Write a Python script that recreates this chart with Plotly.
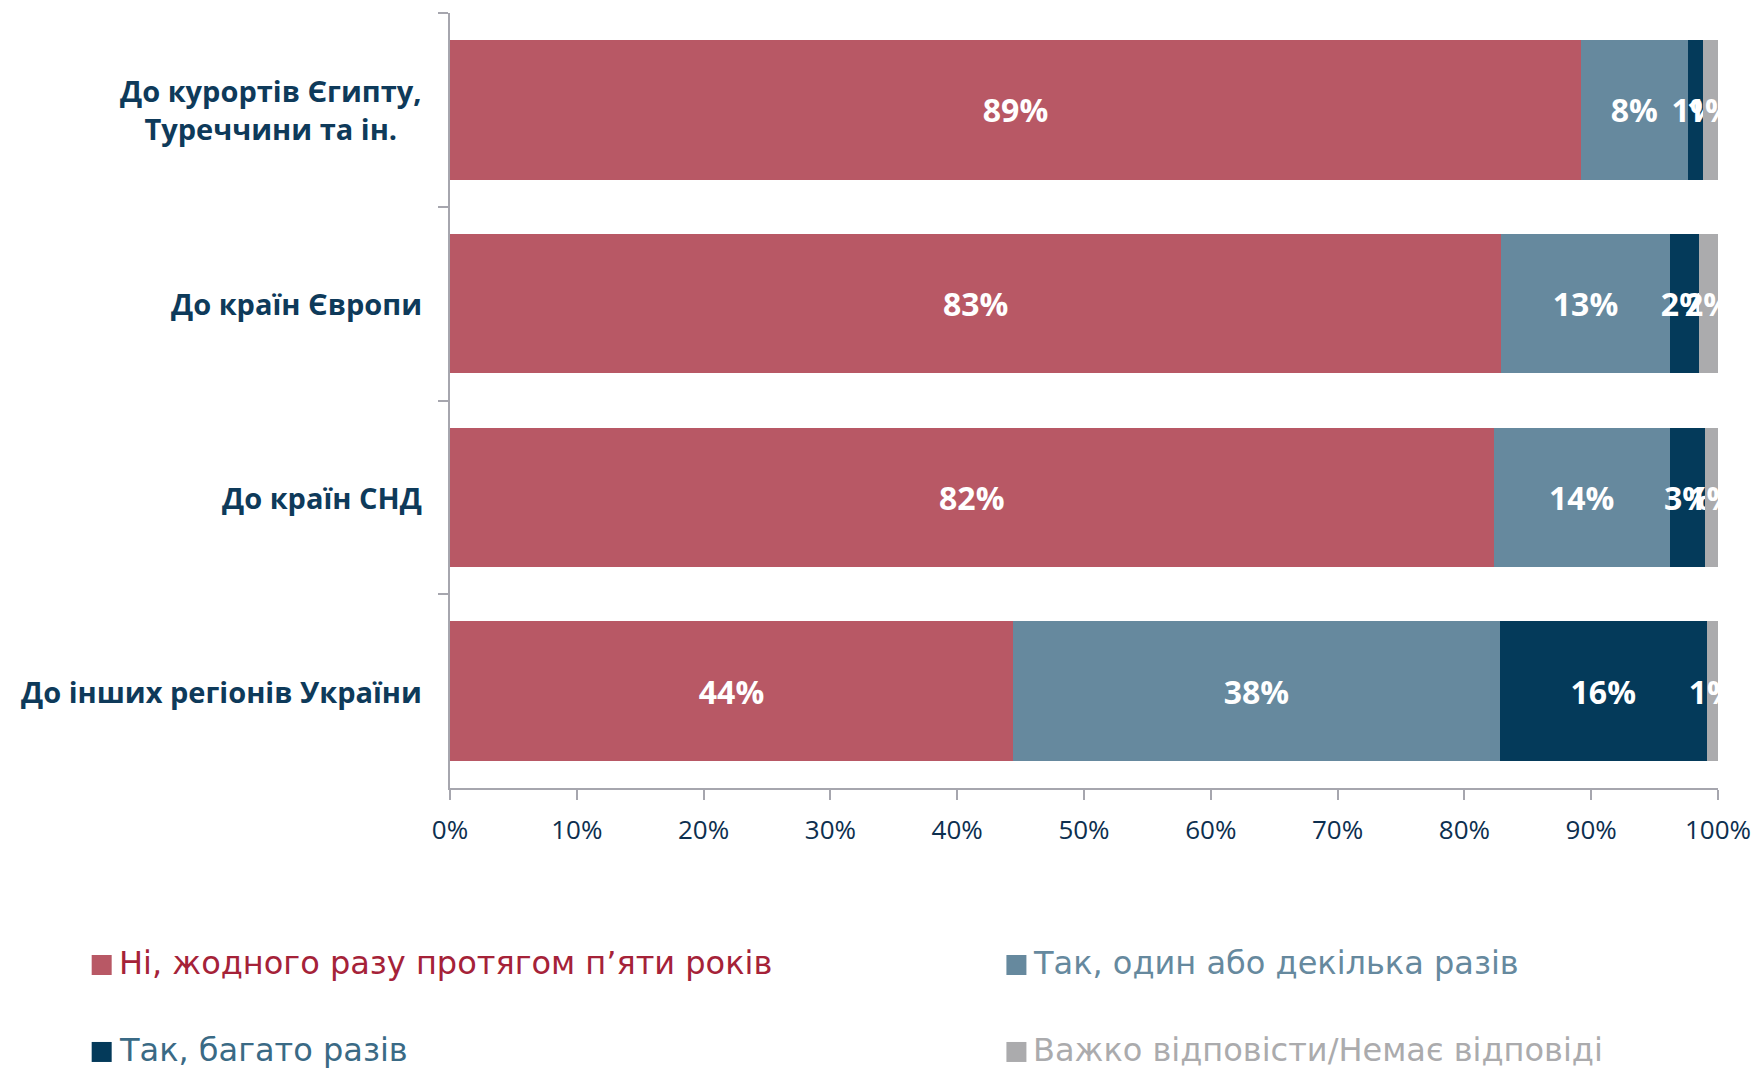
import plotly.graph_objects as go

# Survey: travel over the last five years, by destination (shares, %)
categories = [
    "До курортів Єгипту,<br>Туреччини та ін.",
    "До країн Європи",
    "До країн СНД",
    "До інших регіонів України",
]
series_names = [
    "Ні, жодного разу протягом п’яти років",
    "Так, один або декілька разів",
    "Так, багато разів",
    "Важко відповісти/Немає відповіді",
]
never = [89.2, 82.9, 82.3, 44.4]
once_or_few = [8.4, 13.3, 13.9, 38.4]
many_times = [1.2, 2.3, 2.8, 16.3]
hard_to_say = [1.2, 1.5, 1.0, 0.9]
x_ticks = [0, 10, 20, 30, 40, 50, 60, 70, 80, 90, 100]
x_tick_labels = [f"{v}%" for v in x_ticks]

bar_colors = ["#B85865", "#66899E", "#043A5A", "#ABABAD"]
legend_text_colors = ["#A52238", "#66899E", "#3A6A85", "#ABABAD"]

fig = go.Figure()
for i, vals in enumerate([never, once_or_few, many_times, hard_to_say]):
    fig.add_trace(go.Bar(
        y=categories,
        x=vals,
        orientation="h",
        name=series_names[i],
        marker=dict(color=bar_colors[i], line=dict(width=0)),
        texttemplate="%{x:.0f}%",
        textposition="inside",
        insidetextanchor="middle",
        constraintext="none",
        textangle=0,
        textfont=dict(family="Open Sans", size=32, color="white", weight="bold"),
        showlegend=False,
        hoverinfo="skip",
    ))

# Category labels, centred line by line to the left of the axis
for cat in categories:
    fig.add_annotation(
        x=0, xref="paper", y=cat, yref="y",
        text=cat, showarrow=False,
        xanchor="right", yanchor="middle", align="center",
        xshift=-26,
        font=dict(family="Open Sans", size=29, color="#0E3A5A", weight="bold"),
    )

# Two-column legend below the chart: coloured square + label
legend_font = "DejaVu Sans, Noto Sans, sans-serif"
legend_cols = [-0.2747, 0.4467]      # paper x of square centres
legend_rows = [-0.2284, -0.3406]     # paper y of row centres
legend_slots = [(0, 0), (1, 0), (0, 1), (1, 1)]   # (column, row) per series
for i, (c, r) in enumerate(legend_slots):
    fig.add_shape(
        type="rect", xref="paper", yref="paper",
        xsizemode="pixel", ysizemode="pixel",
        xanchor=legend_cols[c], yanchor=legend_rows[r],
        x0=-10, x1=10, y0=-10, y1=10,
        fillcolor=bar_colors[i], line=dict(width=0),
    )
    fig.add_annotation(
        x=legend_cols[c], xref="paper", y=legend_rows[r], yref="paper",
        text=series_names[i], showarrow=False,
        xanchor="left", yanchor="middle", xshift=15, yshift=2,
        font=dict(family=legend_font, size=32, color=legend_text_colors[i]),
    )

axis_grey = "#A6A6AE"
fig.update_layout(
    width=1758, height=1070,
    margin=dict(l=450, r=40, t=13, b=282),
    paper_bgcolor="white", plot_bgcolor="white",
    barmode="stack", bargap=0.28,
    showlegend=False,
    xaxis=dict(
        range=[0, 100], tickvals=x_ticks, ticktext=x_tick_labels,
        showgrid=False, zeroline=False,
        showline=True, linecolor=axis_grey, linewidth=2,
        ticks="outside", ticklen=10, tickcolor=axis_grey, tickwidth=2,
        ticklabelstandoff=8,
        tickfont=dict(family="Open Sans", size=26, color="#0D2F4F"),
        automargin=False,
        fixedrange=True,
    ),
    yaxis=dict(
        categoryorder="array", categoryarray=categories, autorange="reversed",
        showticklabels=False, showgrid=False, zeroline=False,
        showline=True, linecolor=axis_grey, linewidth=2,
        ticks="outside", ticklen=10, tickcolor=axis_grey, tickwidth=2,
        tickson="boundaries",
        automargin=False,
        fixedrange=True,
    ),
)

fig.write_html("out.html")
